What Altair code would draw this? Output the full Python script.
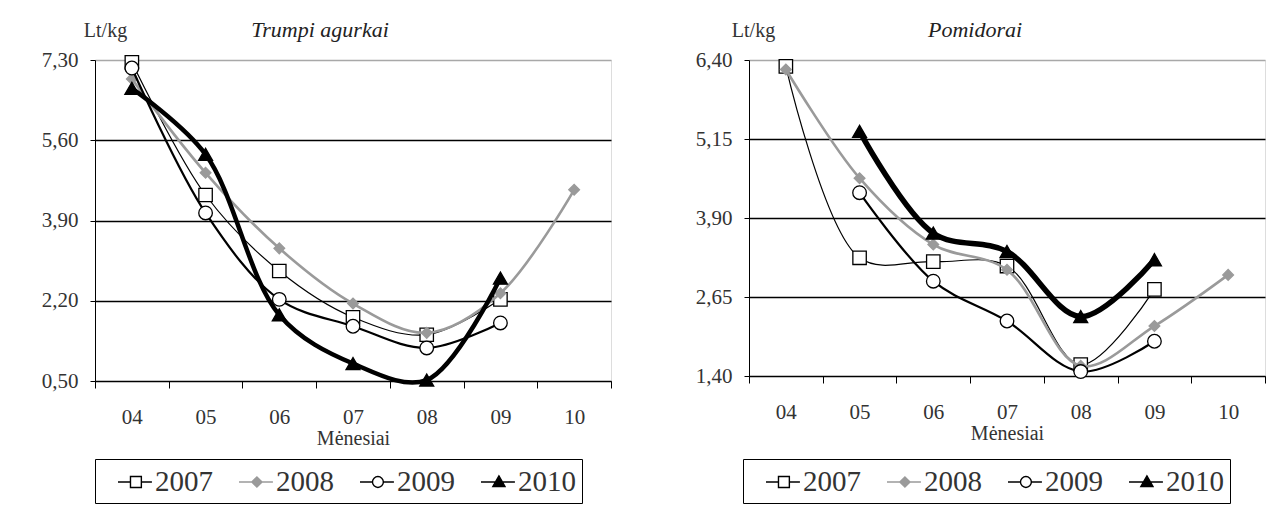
import altair as alt
import pandas as pd

months = ["04", "05", "06", "07", "08", "09", "10"]
years = ["2007", "2008", "2009", "2010"]

# Trumpi agurkai (Lt/kg)
cuc_2007 = [7.25, 4.44, 2.83, 1.85, 1.48, 2.23, None]
cuc_2008 = [6.90, 4.91, 3.31, 2.14, 1.52, 2.36, 4.55]
cuc_2009 = [7.13, 4.06, 2.23, 1.66, 1.20, 1.73, None]
cuc_2010 = [6.70, 5.30, 1.90, 0.87, 0.52, 2.68, None]

# Pomidorai (Lt/kg)
tom_2007 = [6.30, 3.27, 3.21, 3.14, 1.58, 2.77, None]
tom_2008 = [6.25, 4.53, 3.48, 3.08, 1.56, 2.19, 3.00]
tom_2009 = [None, 4.30, 2.90, 2.27, 1.47, 1.95, None]
tom_2010 = [None, 5.27, 3.66, 3.37, 2.34, 3.24, None]

cuc_ticks = [0.50, 2.20, 3.90, 5.60, 7.30]
tom_ticks = [1.40, 2.65, 3.90, 5.15, 6.40]


def to_df(series):
    rows = []
    for yr, vals in zip(years, series):
        for m, v in zip(months, vals):
            rows.append({"month": m, "year": yr, "value": v})
    return pd.DataFrame(rows)


cuc_df = to_df([cuc_2007, cuc_2008, cuc_2009, cuc_2010])
tom_df = to_df([tom_2007, tom_2008, tom_2009, tom_2010])

FONT = "Liberation Serif"
GRAY = "#9a9a9a"

line_color = {"2007": "black", "2008": GRAY, "2009": "black", "2010": "black"}
point_shape = {"2007": "square", "2008": "diamond", "2009": "circle", "2010": "triangle-up"}
point_fill = {"2007": "white", "2008": GRAY, "2009": "white", "2010": "black"}
point_size = {"2007": 180, "2008": 115, "2009": 185, "2010": 195}

# legend symbols: unit = 16 px, symbol centre 16 px from entry start
legend_paths = [
    "M0.0,0H0.78M1.46,0H2.12M0.78,-0.34H1.46V0.34H0.78Z",
    "M0.0,0H2.12M1.12,-0.32L1.44,0L1.12,0.32L0.8,0Z",
    "M0.0,0H0.78M1.46,0H2.12M1.46,0A0.34,0.34 0 1 1 0.78,0A0.34,0.34 0 1 1 1.46,0Z",
    "M0.0,0H2.12M1.12,-0.38L1.5,0.28L0.74,0.28Z",
]


def panel(df, title, ticks, height, title_dx, ytitle_x, legend_x, legend_y, widths):
    ymin, ymax = ticks[0], ticks[-1]
    x = alt.X(
        "month:N",
        sort=months,
        bandPosition=0.5,
        scale=alt.Scale(type="band", domain=months, paddingInner=0, paddingOuter=0),
        axis=alt.Axis(
            title="Mėnesiai",
            tickBand="extent",
            labelAngle=0,
            labelFont=FONT,
            labelFontSize=21,
            labelColor="#333",
            labelPadding=18,
            tickColor="black",
            tickSize=7,
            domainColor="black",
            titleFont=FONT,
            titleFontSize=20,
            titleFontWeight="normal",
            titleColor="#333",
            titlePadding=1,
            grid=False,
        ),
    )
    y = alt.Y(
        "value:Q",
        scale=alt.Scale(domain=[ymin, ymax], nice=False, zero=False),
        axis=alt.Axis(
            values=ticks,
            labelExpr="replace(format(datum.value, '.2f'), '.', ',')",
            labelFont=FONT,
            labelFontSize=21,
            labelColor="#333",
            labelPadding=12,
            tickColor="black",
            tickSize=5,
            domainColor="black",
            grid=True,
            gridColor={"condition": {"test": f"datum.value > {ymax - 0.01}", "value": "#a8a8a8"},
                       "value": "black"},
            gridWidth=1.3,
            title="Lt/kg",
            titleAngle=0,
            titleX=ytitle_x,
            titleY=-24,
            titleAlign="center",
            titleBaseline="alphabetic",
            titleFont=FONT,
            titleFontSize=20,
            titleFontWeight="normal",
            titleColor="#333",
        ),
    )
    base = alt.Chart(df)
    layers = []
    for yr in years:
        sub = base.transform_filter(f"datum.year == '{yr}' && isValid(datum.value)")
        layers.append(
            sub.mark_line(interpolate="catmull-rom", color=line_color[yr],
                          strokeWidth=widths[yr]).encode(x=x, y=y)
        )
        layers.append(
            sub.mark_point(shape=point_shape[yr], filled=True, fill=point_fill[yr],
                           stroke=line_color[yr], strokeWidth=1.3,
                           size=point_size[yr], opacity=1).encode(x=x, y=y)
        )
    leg = alt.Legend(
        title=None,
        orient="none",
        legendX=legend_x,
        legendY=legend_y,
        direction="horizontal",
        columns=4,
        columnPadding=9,
        symbolSize=1024,
        symbolStrokeWidth=1.4,
        symbolOpacity=1,
        labelFont=FONT,
        labelFontSize=29,
        labelColor="#333",
        labelOffset=20,
        padding=6,
        strokeColor="black",
        fillColor="white",
    )
    legend_layer = base.transform_filter("isValid(datum.value)").mark_point(
        opacity=0, filled=True
    ).encode(
        x=x,
        y=y,
        shape=alt.Shape("year:N", scale=alt.Scale(domain=years, range=legend_paths), legend=leg),
        fill=alt.Fill("year:N", scale=alt.Scale(domain=years, range=["white", GRAY, "white", "black"]), legend=leg),
        stroke=alt.Stroke("year:N", scale=alt.Scale(domain=years, range=["black", GRAY, "black", "black"]), legend=leg),
    )
    layers.append(legend_layer)
    return alt.layer(*layers).properties(
        width=516,
        height=height,
        title=alt.TitleParams(
            text=title,
            font=FONT,
            fontSize=22,
            fontStyle="italic",
            fontWeight="normal",
            color="#222",
            anchor="start",
            frame="group",
            align="center",
            dx=title_dx,
            dy=26,
        ),
    )


w_left = {"2007": 1.2, "2008": 2.6, "2009": 2.2, "2010": 4.5}
w_right = {"2007": 1.2, "2008": 2.6, "2009": 2.2, "2010": 5.5}

left = panel(cuc_df, "Trumpi agurkai", cuc_ticks, 321, 225, 10, 0, 399, w_left)
right = panel(tom_df, "Pomidorai", tom_ticks, 316, 226, 4, -6, 399, w_right)

chart = alt.hconcat(left, right, spacing=82).resolve_scale(
    shape="independent", fill="independent", stroke="independent"
).resolve_legend(
    shape="independent", fill="independent", stroke="independent"
).properties(
    padding={"left": 32, "top": 10, "right": 5, "bottom": 5}
).configure_view(stroke=None).configure(background="white", font=FONT)

chart.save("out.html", embed_options={"renderer": "svg", "actions": False})
